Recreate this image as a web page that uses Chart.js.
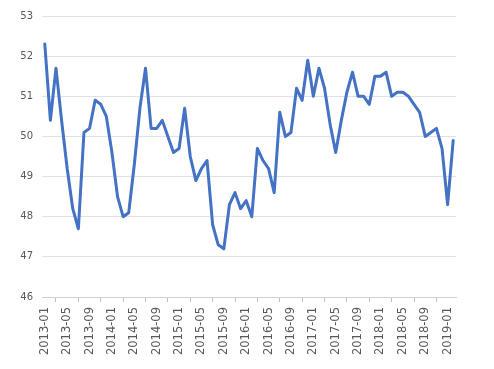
<!DOCTYPE html>
<html>
<head>
<meta charset="utf-8">
<script src="https://cdn.jsdelivr.net/npm/chart.js@4"></script>
<style>
  html, body { margin: 0; padding: 0; background: #fff; }
  #wrap { width: 494px; height: 369px; }
</style>
</head>
<body>
<div id="wrap"><canvas id="chart" width="494" height="369"></canvas></div>
<script>
// monthly readings, 2013-01 .. 2019-02
const years = ['2013', '2014', '2015', '2016', '2017', '2018', '2019'];
const values2013 = [52.3, 50.4, 51.7, 50.4, 49.2, 48.2, 47.7, 50.1, 50.2, 50.9, 50.8, 50.5];
const values2014 = [49.6, 48.5, 48.0, 48.1, 49.3, 50.7, 51.7, 50.2, 50.2, 50.4, 50.0, 49.6];
const values2015 = [49.7, 50.7, 49.5, 48.9, 49.2, 49.4, 47.8, 47.3, 47.2, 48.3, 48.6, 48.2];
const values2016 = [48.4, 48.0, 49.7, 49.4, 49.2, 48.6, 50.6, 50.0, 50.1, 51.2, 50.9, 51.9];
const values2017 = [51.0, 51.7, 51.2, 50.3, 49.6, 50.4, 51.1, 51.6, 51.0, 51.0, 50.8, 51.5];
const values2018 = [51.5, 51.6, 51.0, 51.1, 51.1, 51.0, 50.8, 50.6, 50.0, 50.1, 50.2, 49.7];
const values2019 = [48.3, 49.9];

const values = [].concat(values2013, values2014, values2015, values2016,
  values2017, values2018, values2019);

const labels = [];
years.forEach((y) => {
  for (let m = 1; m <= 12; m++) {
    if (labels.length < values.length) {
      labels.push(y + '-' + (m < 10 ? '0' + m : '' + m));
    }
  }
});

const yMin = 46;
const yMax = 53;

new Chart(document.getElementById('chart'), {
  type: 'line',
  data: {
    labels: labels,
    datasets: [{
      data: values,
      borderColor: '#4472C4',
      borderWidth: 3,
      pointRadius: 0,
      tension: 0,
      borderJoinStyle: 'round',
      borderCapStyle: 'round'
    }]
  },
  options: {
    responsive: false,
    animation: false,
    layout: {
      padding: { left: 0, right: 38, top: 16, bottom: 0 }
    },
    plugins: {
      legend: { display: false },
      tooltip: { enabled: false }
    },
    scales: {
      x: {
        offset: true,
        afterFit: (scale) => { scale.height = 72; },
        grid: {
          offset: true,
          drawOnChartArea: false,
          tickLength: 5,
          color: '#bfbfbf'
        },
        border: { color: '#d0d0d0', width: 1 },
        ticks: {
          autoSkip: false,
          minRotation: 90,
          maxRotation: 90,
          padding: 5,
          color: '#595959',
          font: { family: 'DejaVu Sans', size: 11.5 },
          callback: function(v, i) {
            return i % 4 === 0 ? labels[i] : null;
          }
        }
      },
      y: {
        min: yMin,
        max: yMax,
        afterFit: (scale) => { scale.width = 42; },
        grid: {
          color: '#dde1ee',
          lineWidth: 1,
          drawTicks: false
        },
        border: { display: false },
        ticks: {
          stepSize: 1,
          padding: 9,
          color: '#595959',
          font: { family: 'DejaVu Sans', size: 10 }
        }
      }
    }
  }
});
</script>
</body>
</html>
